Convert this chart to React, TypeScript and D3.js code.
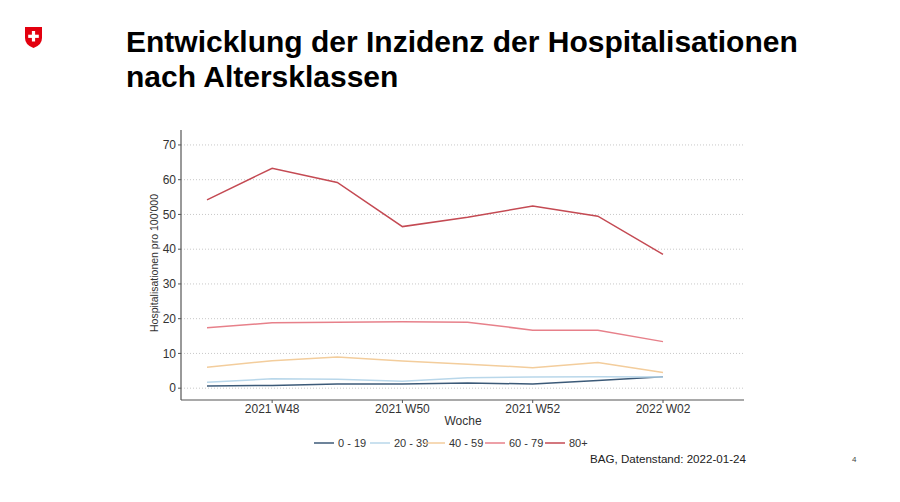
import React from "react";
import * as d3 from "d3";

const weeks = ["2021 W47", "2021 W48", "2021 W49", "2021 W50", "2021 W51", "2021 W52", "2022 W01", "2022 W02"];
const tickWeeks = ["2021 W48", "2021 W50", "2021 W52", "2022 W02"];
const yTicks = [0, 10, 20, 30, 40, 50, 60, 70];
const groups = ["0 - 19", "20 - 39", "40 - 59", "60 - 79", "80+"];
const colors = ["#3c5a78", "#b9d7ea", "#f3cd9c", "#e7808a", "#c44a53"];
const v0_19 = [0.6, 0.8, 1.2, 1.2, 1.5, 1.2, 2.2, 3.3];
const v20_39 = [1.7, 2.7, 2.6, 2.0, 3.0, 3.2, 3.3, 3.2];
const v40_59 = [6.0, 7.9, 9.0, 7.8, 6.9, 5.9, 7.4, 4.5];
const v60_79 = [17.4, 18.8, 19.0, 19.1, 19.0, 16.7, 16.7, 13.4];
const v80 = [54.2, 63.3, 59.2, 46.5, 49.2, 52.4, 49.5, 38.5];
const series = [v0_19, v20_39, v40_59, v60_79, v80];

export default function App() {
  const W = 900, H = 502;
  const left = 181, right = 744, top = 130, bottom = 400;
  const x = d3.scalePoint<string>().domain(weeks).range([207, 663]);
  const y = d3.scaleLinear().domain([-3.4, 74.3]).range([bottom, top]);
  const line = d3.line<number>().x((_, i) => x(weeks[i]) as number).y((d) => y(d));
  const font = "Liberation Sans, Arial, sans-serif";
  const legendX = [314, 370, 425, 485, 545];
  return (
    <svg width={W} height={H} style={{ position: "absolute", left: 0, top: 0, background: "#fff" }} fontFamily={font}>
      <rect width={W} height={H} fill="#fff" />
      {/* logo */}
      <g transform="translate(25,27)">
        <path d="M0,0 H17 V11 Q17,18 8.5,21 Q0,18 0,11 Z" fill="#e3000f" />
        <rect x={6.9} y={4} width={3.2} height={10.5} fill="#fff" />
        <rect x={3.2} y={7.7} width={10.6} height={3.2} fill="#fff" />
      </g>
      <text x={126} y={52} fontSize={30} fontWeight="bold" fill="#000">Entwicklung der Inzidenz der Hospitalisationen</text>
      <text x={126} y={87} fontSize={30} fontWeight="bold" fill="#000">nach Altersklassen</text>
      {/* grid */}
      {yTicks.map((t) => (
        <line key={t} x1={left} x2={right} y1={y(t)} y2={y(t)} stroke="#c8c8c8" strokeWidth={1} strokeDasharray="1,2" />
      ))}
      {/* axes */}
      <line x1={left} x2={left} y1={top} y2={bottom} stroke="#555" strokeWidth={1.2} />
      <line x1={left} x2={right} y1={bottom} y2={bottom} stroke="#555" strokeWidth={1.2} />
      {yTicks.map((t) => (
        <g key={t}>
          <line x1={left - 3} x2={left} y1={y(t)} y2={y(t)} stroke="#555" />
          <text x={left - 5} y={y(t)} dy="0.35em" textAnchor="end" fontSize={12} fill="#333">{t}</text>
        </g>
      ))}
      {tickWeeks.map((w) => (
        <g key={w}>
          <line x1={x(w)} x2={x(w)} y1={bottom} y2={bottom + 3} stroke="#555" />
          <text x={x(w)} y={bottom + 13} textAnchor="middle" fontSize={12} fill="#333">{w}</text>
        </g>
      ))}
      <text x={463} y={425} textAnchor="middle" fontSize={12} fill="#333">Woche</text>
      <text transform={`translate(158,263) rotate(-90)`} textAnchor="middle" fontSize={10.5} fill="#333">Hospitalisationen pro 100'000</text>
      {/* lines */}
      {series.map((s, i) => (
        <path key={i} d={line(s) || ""} fill="none" stroke={colors[i]} strokeWidth={1.5} />
      ))}
      {/* legend */}
      {groups.map((g, i) => (
        <g key={g}>
          <line x1={legendX[i]} x2={legendX[i] + 20} y1={443} y2={443} stroke={colors[i]} strokeWidth={1.5} />
          <text x={legendX[i] + 24} y={443} dy="0.35em" fontSize={11} fill="#333">{g}</text>
        </g>
      ))}
      <text x={590} y={463} fontSize={11.6} fill="#222">BAG, Datenstand: 2022-01-24</text>
      <text x={852} y={462} fontSize={8} fill="#444">4</text>
    </svg>
  );
}
